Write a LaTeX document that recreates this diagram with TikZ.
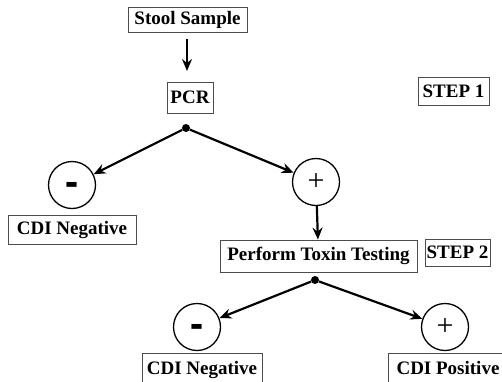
\documentclass[tikz,border=0pt]{standalone}
\usepackage{fontspec}
\setmainfont{Liberation Serif}
\usetikzlibrary{arrows.meta}
\begin{document}
\begin{tikzpicture}[x=1pt,y=-1pt,
  box/.style={draw=black!70, line width=0.9pt, inner sep=0pt,
    font=\fontsize{19}{21}\selectfont\bfseries},
  circ/.style={draw=black, line width=1.3pt, circle, minimum size=47pt, inner sep=0pt},
  dotn/.style={circle, fill=black, minimum size=8pt, inner sep=0pt},
  arr/.style={line width=2.2pt, -{Stealth[length=12pt,width=10pt,inset=4pt]}},
  minus/.style={font=\fontsize{34}{34}\selectfont\bfseries, yshift=-5pt},
  plus/.style={font=\fontsize{30}{30}\selectfont}]
\useasboundingbox (0,0) rectangle (502,381);
\fill[white] (0,0) rectangle (502,381);

\node[box, minimum width=119pt, minimum height=25pt] (stool) at (187.5,19.5) {Stool Sample};
\node[box, minimum width=46pt, minimum height=31pt] (pcr) at (190,97.5) {PCR};
\node[box, minimum width=71pt, minimum height=28pt] (step1) at (453.5,91) {STEP 1};
\coordinate (a1s) at (187,39);
\coordinate (a1e) at (187,71);
\draw[arr] (a1s) -- (a1e);

\node[dotn] (d1) at (186,128) {};
\node[circ] (m1) at (72,185) {};
\node[minus] at (m1) {\scalebox{1.15}[1.7]{-}};
\node[circ] (p1) at (316,182) {};
\node[plus] at (p1) {+};
\draw[arr] (d1) -- (m1);
\draw[arr] (d1) -- (p1);

\node[box, minimum width=128pt, minimum height=29pt] (neg1) at (72,229.5) {CDI Negative};
\node[box, minimum width=197pt, minimum height=32pt] (tox) at (318.5,256) {Perform Toxin Testing};
\node[box, minimum width=65pt, minimum height=27pt] (step2) at (457.5,252.5) {STEP 2};
\draw[arr] (p1) -- (tox);

\node[dotn] (d2) at (315,280) {};
\node[circ] (m2) at (197,327) {};
\node[minus] at (m2) {\scalebox{1.15}[1.7]{-}};
\node[circ] (p2) at (445,327) {};
\node[plus] at (p2) {+};
\draw[arr] (d2) -- (m2);
\draw[arr] (d2) -- (p2);

\node[box, minimum width=120pt, minimum height=34pt] (neg2) at (202,370) {\raisebox{4pt}{CDI Negative}};
\node[box, minimum width=120pt, minimum height=34pt] (pos2) at (448,370) {\raisebox{4pt}{CDI Positive}};
\end{tikzpicture}
\end{document}
